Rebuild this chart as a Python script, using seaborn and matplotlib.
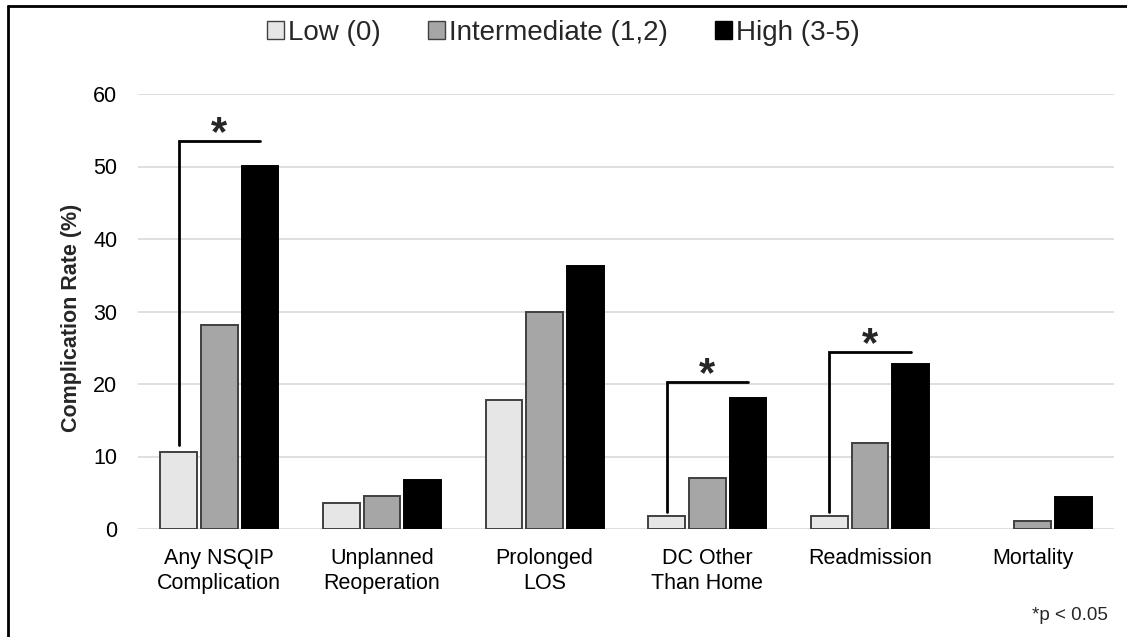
import matplotlib
matplotlib.use("Agg")
import matplotlib.pyplot as plt
import seaborn as sns
import pandas as pd
from matplotlib.lines import Line2D
from matplotlib.patches import Patch

# Complication rates (%) by risk group
categories = ["Any NSQIP\nComplication", "Unplanned\nReoperation", "Prolonged\nLOS",
              "DC Other\nThan Home", "Readmission", "Mortality"]
groups = ["Low (0)", "Intermediate (1,2)", "High (3-5)"]
low_rates = [10.6, 3.6, 17.8, 1.8, 1.8, 0.0]
intermediate_rates = [28.1, 4.6, 29.9, 7.0, 11.9, 1.1]
high_rates = [50.1, 6.8, 36.3, 18.1, 22.8, 4.4]

# Significance brackets: (category index, low-end value, bracket height)
sig_category = [0, 3, 4]
sig_low_end = [11.6, 2.3, 2.3]
sig_height = [53.5, 20.3, 24.4]

fills = ["#e6e6e6", "#a6a6a6", "#000000"]
edges = ["#404040", "#404040", "#000000"]

df = pd.DataFrame({
    "category": categories * 3,
    "group": [g for g in groups for _ in categories],
    "rate": low_rates + intermediate_rates + high_rates,
})

sns.set_theme(style="white")
plt.rcParams["font.family"] = ["Liberation Sans", "DejaVu Sans"]

fig = plt.figure(figsize=(11.27, 6.37), dpi=100)
ax = fig.add_axes([138 / 1127, 1 - 529 / 637, 976 / 1127, 435 / 637])

sns.barplot(data=df, x="category", y="rate", hue="group", order=categories,
            hue_order=groups, palette=fills, width=0.75, gap=0.1,
            saturation=1, legend=False, ax=ax, errorbar=None)

n = len(categories)
for i, bar in enumerate(ax.patches[: 3 * n]):
    g = i // n
    bar.set_edgecolor(edges[g])
    bar.set_linewidth(1.4 if bar.get_height() > 0 else 0)
    bar.set_zorder(3)

ax.set_ylim(0, 60)
ax.set_xlim(-0.5, n - 0.5)
ax.set_yticks(range(0, 61, 10))
ax.yaxis.grid(True, color="#d9d9d9", linewidth=1.2, zorder=0)
ax.set_axisbelow(True)
for s in ax.spines.values():
    s.set_visible(False)
ax.tick_params(axis="both", length=0, labelsize=15.5, colors="#000000")
ax.tick_params(axis="y", pad=15)
ax.tick_params(axis="x", pad=14)
ax.set_xlabel("")
ax.set_ylabel("Complication Rate (%)", fontsize=15.5, fontweight="bold")
ax.yaxis.set_label_coords(-0.0574, 0.485)

# Significance brackets from the low-risk bar to the high-risk bar
slot = 0.75 / 3
for c, lo, h in zip(sig_category, sig_low_end, sig_height):
    x0 = c - slot
    x1 = c + slot
    ax.plot([x0, x0, x1], [lo, h, h], color="black", linewidth=2, zorder=4,
            solid_joinstyle="miter")
    ax.text((x0 + x1) / 2, h - 0.6, "*", ha="center", va="baseline",
            fontsize=30, fontweight="bold", zorder=5)

handles = [Patch(facecolor=f, edgecolor=e, linewidth=1.0) for f, e in zip(fills, edges)]
fig.legend(handles, groups, loc="center", bbox_to_anchor=(0.5, 1 - 33 / 637),
           ncol=3, frameon=False, fontsize=20, handlelength=0.6, handleheight=0.6,
           handletextpad=0.15, columnspacing=1.7)

fig.text(1108 / 1127, 1 - 616 / 637, "*p < 0.05", ha="right", va="center", fontsize=13.5)

# Figure frame lines along the left and top edges
fig.add_artist(Line2D([8 / 1127, 8 / 1127], [0, 1 - 6 / 637], transform=fig.transFigure,
                      color="black", linewidth=2))
fig.add_artist(Line2D([8 / 1127, 1], [1 - 6 / 637, 1 - 6 / 637], transform=fig.transFigure,
                      color="black", linewidth=2))

fig.savefig("out.png", dpi=100, facecolor="white")
